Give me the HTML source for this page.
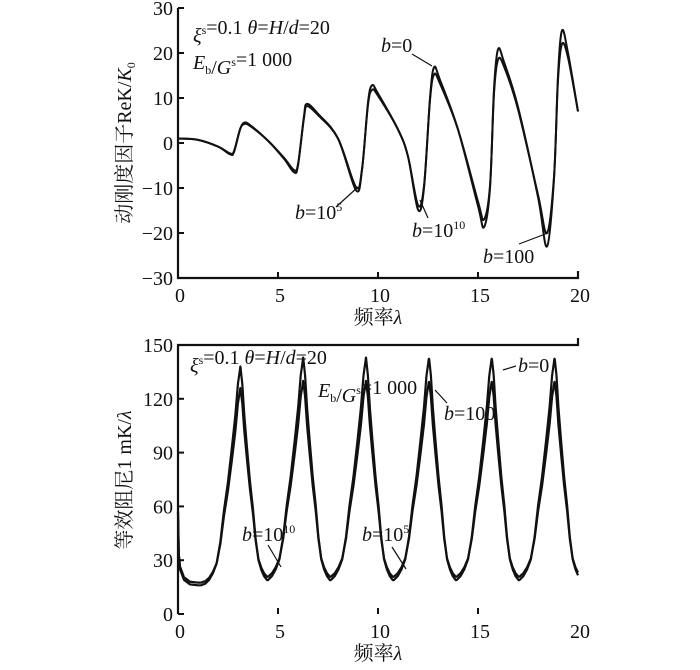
<!DOCTYPE html>
<html><head><meta charset="utf-8"><style>
body{margin:0;background:#fff}
svg text{font-family:"Liberation Serif","Noto Serif CJK SC",serif;fill:#111}
</style></head><body>
<svg id="c" width="700" height="665" viewBox="0 0 700 665"></svg>
<script>
// ---- Top chart data (keypoints λ, value) ----
const topLam0 = [0,1,2,2.6,2.8,3.1,3.3,3.6,4.5,5.3,5.8,6.0,6.3,6.45,7,8,8.9,9.2,9.5,9.7,10,11,11.5,12.0,12.3,12.6,12.8,13.1,14,15,15.3,15.6,15.8,16.0,16.3,17,18,18.45,18.8,19.0,19.2,19.5,20];
const topB0 =   [1,0.7,-0.8,-2.5,-2,3,4.5,4,0.5,-3.5,-6.5,-5,6,8.7,6.5,1,-10.5,-6,9,12.8,11,3,-3,-14.8,-10,10,16.8,14,3,-14,-18.7,-10,12,20.8,18,8,-12,-23,-8,15,25,20,7];
const topB100 = [1,0.7,-0.8,-2.3,-1.8,3,4.2,3.8,0.5,-3.3,-6,-4.7,5.6,8.2,6.2,1,-9.8,-5.8,8.5,11.8,10.5,3,-3,-13.8,-9.5,9.5,15.2,13.2,3,-13,-17,-9.5,11,18.5,17,7.5,-11.5,-20,-7.5,14,22,19,7];
const topYTicks = [30,20,10,0,-10,-20,-30];
const xTicks = [0,5,10,15,20];
// ---- Bottom chart data ----
const peakLam = [3.12,6.26,9.4,12.55,15.69,18.83];
const peakB0 = [138,143,143,143,143,143];
const peakB100 = [126,130,130,130,130,130];
const troughB0 = [16,18,18,18,18,18,18];
const troughB100 = [17.5,20,20,20,20,20,20];
const startLam = [0,0.04,0.1,0.3,0.6,1.0];
const startB0 = [57,33,25,19,16.5,16];
const startB100 = [57,34,26.5,20.5,18,17.5];
const profD = [0,0.1,0.2,0.34,0.5,0.66,0.8,0.95,1.1,1.25,1.4,1.57];
const profF = [1,0.92,0.78,0.63,0.47,0.34,0.2,0.1,0.055,0.025,0.008,0];
const leftScale = 1.25, rightScale = 0.95;
const botYTicks = [0,30,60,90,120,150];

const svg=document.getElementById('c');
const NS='http://www.w3.org/2000/svg';
function mk(t,a,p){const e=document.createElementNS(NS,t);for(const k in a)e.setAttribute(k,a[k]);(p||svg).appendChild(e);return e;}
const X0=178,X1=578;
const sx=l=>X0+(l/20)*(X1-X0);
const syT=v=>143-v*(135/30);
const syB=v=>614-v*(269/150);

function cr(pts){let d='M'+pts[0][0]+','+pts[0][1];
 for(let i=0;i<pts.length-1;i++){const p0=pts[i-1]||pts[i],p1=pts[i],p2=pts[i+1],p3=pts[i+2]||p2;
  d+=' C'+(p1[0]+(p2[0]-p0[0])/6)+','+(p1[1]+(p2[1]-p0[1])/6)+' '+(p2[0]-(p3[0]-p1[0])/6)+','+(p2[1]-(p3[1]-p1[1])/6)+' '+p2[0]+','+p2[1];}
 return d;}

function axes(sy,yt,name,lab,labY){
 const g=mk('g',{});
 
 
 mk('polyline',{points:`${X0},${sy(yt[0])} ${X0},${sy(yt[yt.length-1])} ${X1},${sy(yt[yt.length-1])} ${X1},${sy(yt[yt.length-1])-7}`,fill:'none',stroke:'#111','stroke-width':2.2},g);
 const ymin=Math.min(...yt);
 const by=sy(ymin);
 xTicks.forEach(t=>{
  if(t>0&&t<20) mk('line',{x1:sx(t),x2:sx(t),y1:by,y2:by-6,stroke:'#111','stroke-width':2},g);
  const tx=mk('text',{x:sx(t)+2,y:by+24,'text-anchor':'middle','font-size':20},g);tx.textContent=t;
  
 });
 yt.forEach(t=>{
  mk('line',{x1:X0,x2:X0+6,y1:sy(t),y2:sy(t),stroke:'#111','stroke-width':2},g);
  const tx=mk('text',{x:X0-5,y:sy(t)+7,'text-anchor':'end','font-size':20},g);tx.textContent=(t<0?'\u2212'+(-t):t);
  
 });
 const xl=mk('text',{x:378,y:by+46,'text-anchor':'middle','font-size':20},g);
 xl.innerHTML='频率<tspan font-style="italic">λ</tspan>';
 
 const yl=mk('text',{x:0,y:0,'text-anchor':'middle','font-size':20,transform:`translate(131,${labY}) rotate(-90)`},g);
 yl.innerHTML=lab;
 
}
axes(syT,topYTicks,'top','动刚度因子ReK/<tspan font-style="italic">K</tspan><tspan font-size="12" dy="4">0</tspan>',143);
axes(syB,botYTicks,'bottom','等效阻尼1 mK/<tspan font-style="italic">λ</tspan>',480);

// top series
[[topB0,'top-series-b0'],[topB100,'top-series-b100']].forEach(([s,n])=>{
 const p=mk('path',{d:cr(topLam0.map((l,i)=>[sx(l),syT(s[i])])),fill:'none',stroke:'#111','stroke-width':2});
 
});
// bottom series
function prof(d){d=Math.abs(d);if(d>=profD[profD.length-1])return 0;
 for(let i=0;i<profD.length-1;i++)if(d<=profD[i+1]){const t=(d-profD[i])/(profD[i+1]-profD[i]);return profF[i]+(profF[i+1]-profF[i])*t;}return 0;}
function botVal(l,pk,tr,st){
 if(l<=startLam[startLam.length-1]){for(let i=0;i<startLam.length-1;i++)if(l<=startLam[i+1]){const t=(l-startLam[i])/(startLam[i+1]-startLam[i]);return st[i]+(st[i+1]-st[i])*t;}}
 // previous and next peaks
 let best=-1e9,k=-1;
 for(let i=0;i<peakLam.length;i++){if(peakLam[i]<=l)k=i;}
 const tr_=tr[k+1<tr.length?k+1:tr.length-1];
 if(k>=0){const f=prof((l-peakLam[k])/rightScale);best=Math.max(best,tr_+(pk[k]-tr_)*f);}
 if(k+1<peakLam.length){const f=prof((peakLam[k+1]-l)/leftScale);best=Math.max(best,tr_+(pk[k+1]-tr_)*f);}
 return best;}
[[peakB0,troughB0,startB0,'bottom-series-b0'],[peakB100,troughB100,startB100,'bottom-series-b100']].forEach(([pk,tr,st,n])=>{
 const pts=[];for(let l=0;l<=20.001;l+=0.02)pts.push([sx(l),syB(botVal(l,pk,tr,st))]);
 const p=mk('path',{d:cr(pts),fill:'none',stroke:'#111','stroke-width':2.2});
 
});

function label(x,y,html,name){const t=mk('text',{x:x,y:y,'font-size':20});t.innerHTML=html;
 return t;}
function lead(x1,y1,x2,y2,name){const l=mk('line',{x1,y1,x2,y2,stroke:'#111','stroke-width':1.2});
 }
const I=s=>'<tspan font-style="italic">'+s+'</tspan>';
const SUP=s=>'<tspan font-size="12" dy="-8">'+s+'</tspan><tspan dy="8"></tspan>';
const SUB=s=>'<tspan font-size="12" dy="5">'+s+'</tspan><tspan dy="-5"></tspan>';
// top annotations
label(193,42,I('ξ')+SUP('s')+'=0.1  '+I('θ')+'='+I('H')+'/'+I('d')+'=20','top-params-1');
label(193,69,I('E')+SUB('b')+'/'+I('G')+SUP('s')+'=1 000','top-params-2');
label(381,52,I('b')+'=0','top-label-b0');lead(412,54,432,66,'top-leader-b0');
label(295,219,I('b')+'=10'+SUP('5'),'top-label-b1e5');lead(336,207,358,187,'top-leader-b1e5');
label(412,237,I('b')+'=10'+SUP('10'),'top-label-b1e10');lead(428,218,420,200,'top-leader-b1e10');
label(483,263,I('b')+'=100','top-label-b100');lead(519,244,548,233,'top-leader-b100');
// bottom annotations
label(190,372,I('ξ')+SUP('s')+'=0.1  '+I('θ')+'='+I('H')+'/'+I('d')+'=20','bottom-params-1');
label(318,397,I('E')+SUB('b')+'/'+I('G')+SUP('s')+'=1 000','bottom-params-2');
label(518,372,I('b')+'=0','bottom-label-b0');lead(516,366,503,370,'bottom-leader-b0');
label(444,420,I('b')+'=100','bottom-label-b100');lead(447,403,435,390,'bottom-leader-b100');
label(242,541,I('b')+'=10'+SUP('10'),'bottom-label-b1e10');lead(268,545,281,567,'bottom-leader-b1e10');
label(362,541,I('b')+'=10'+SUP('5'),'bottom-label-b1e5');lead(392,547,406,569,'bottom-leader-b1e5');
</script>
</body></html>
